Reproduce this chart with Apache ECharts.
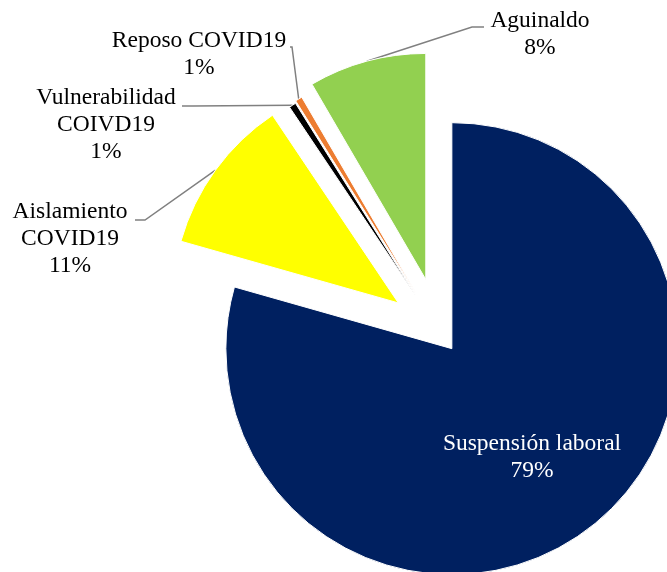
<!DOCTYPE html>
<html><head><meta charset="utf-8">
<script src="https://cdn.jsdelivr.net/npm/echarts@6/dist/echarts.min.js"></script>
<style>html,body{margin:0;padding:0;background:#fff}#c{width:667px;height:572px}</style>
</head><body><div id="c"></div>
<script>
// Data
const categories = ['Suspensión laboral', 'Aislamiento COVID19', 'Vulnerabilidad COIVD19', 'Reposo COVID19', 'Aguinaldo'];
const labelTexts = ['Suspensión laboral', 'Aislamiento\nCOVID19', 'Vulnerabilidad\nCOIVD19', 'Reposo COVID19', 'Aguinaldo'];
const values = [79.4, 11.2, 0.5, 0.5, 8.4];

// Style / layout (kept apart from the data)
const colors = ['#002060', '#FFFF00', '#000000', '#ED7D31', '#92D050'];
const explodeOffsets = [19, 52, 46, 48, 56];
const labelCenters = [[532, 457], [70, 239], [106, 125], [199, 54], [540, 34]];
// label-side end of each leader line: [bend, end]
const leaderEnds = [null, [[145, 220], [135, 220]], [[193, 106], [182, 106]], [[292, 47], [290, 47]], [[472, 27], [484, 27]]];
const CX = 440.4, CY = 333.5, R = 226;

const chart = echarts.init(document.getElementById('c'), null, {renderer: 'canvas'});
const font = '"Liberation Serif", "Times New Roman", serif';

const total = values.reduce((a, b) => a + b, 0);
let cum = 0;
const mids = values.map(v => { const m = (cum + v / 2) / total; cum += v; return m; });
const dirs = mids.map(m => [Math.sin(2 * Math.PI * m), -Math.cos(2 * Math.PI * m)]);
const centers = dirs.map((d, k) => [CX + explodeOffsets[k] * d[0], CY + explodeOffsets[k] * d[1]]);
const arcPoints = dirs.map((d, k) => [centers[k][0] + R * d[0], centers[k][1] + R * d[1]]);

const series = categories.map((cat, k) => ({
  type: 'pie',
  silent: true,
  center: centers[k],
  radius: R,
  startAngle: 90,
  clockwise: true,
  percentPrecision: 0,
  avoidLabelOverlap: false,
  emphasis: {disabled: true},
  label: {
    fontFamily: font,
    fontSize: 23.5,
    lineHeight: 27,
    align: 'center',
    formatter: p => labelTexts[p.dataIndex] + '\n' + p.percent + '%'
  },
  labelLine: {
    length: 10,
    length2: 10,
    lineStyle: {color: '#808080', width: 1.5}
  },
  labelLayout: p => {
    const i = p.dataIndex;
    const o = {x: labelCenters[i][0], y: labelCenters[i][1], align: 'center', verticalAlign: 'middle'};
    if (leaderEnds[i]) o.labelLinePoints = [arcPoints[i], leaderEnds[i][0], leaderEnds[i][1]];
    return o;
  },
  data: categories.map((n, i) => ({
    name: n,
    value: values[i],
    itemStyle: i === k
      ? {color: colors[i], borderColor: '#ffffff', borderWidth: 1}
      : {color: 'rgba(0,0,0,0)', borderWidth: 0},
    label: {
      show: i === k,
      position: i === 0 ? 'inside' : 'outside',
      color: i === 0 ? '#ffffff' : '#000000'
    },
    labelLine: {show: i === k && i !== 0}
  }))
}));

chart.setOption({
  animation: false,
  backgroundColor: '#ffffff',
  series: series
});
</script>
</body></html>
